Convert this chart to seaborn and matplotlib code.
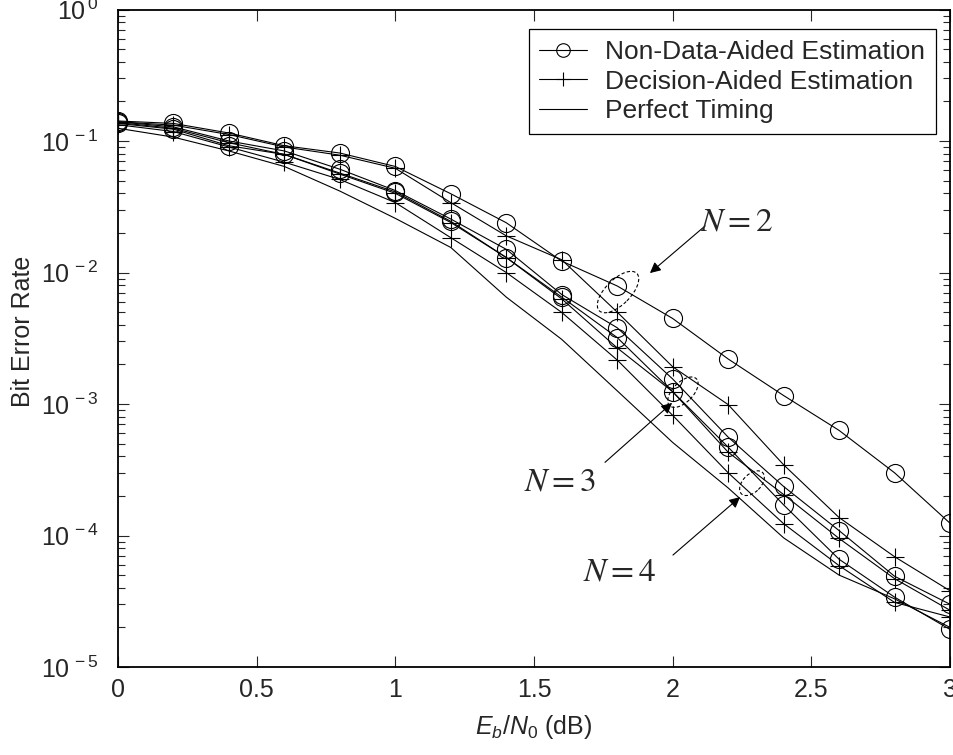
"""
BER vs Eb/N0 for non-data-aided / decision-aided timing estimation
"""

import numpy as np
import pandas as pd
import matplotlib
matplotlib.use('Agg')
import matplotlib.pyplot as plt
import matplotlib.transforms as mtransforms
from matplotlib.patches import Ellipse
import seaborn as sns

# ---- data ----
ebn0 = [0.0, 0.2, 0.4, 0.6, 0.8, 1.0, 1.2, 1.4, 1.6, 1.8, 2.0, 2.2, 2.4, 2.6, 2.8, 3.0]

nda_n2 = [0.142, 0.136, 0.115, 0.092, 0.081, 0.064, 0.0397, 0.0239, 0.0122, 0.0079,
          0.00447, 0.0022, 0.00116, 0.00063, 0.00030, 0.000124]
da_n2 = [0.140, 0.132, 0.112, 0.090, 0.078, 0.062, 0.034, 0.019, 0.0125, 0.0050,
         0.00192, 0.00099, 0.000345, 0.000137, 0.000069, 0.000038]
nda_n3 = [0.140, 0.128, 0.100, 0.084, 0.061, 0.042, 0.0255, 0.015, 0.0068, 0.0038,
          0.00155, 0.00056, 0.000236, 0.000109, 0.000049, 0.000030]
nda_n4 = [0.136, 0.123, 0.092, 0.079, 0.057, 0.041, 0.0245, 0.013, 0.0065, 0.0032,
          0.00124, 0.00047, 0.000171, 0.000066, 0.000034, 0.0000193]
da_n3 = [0.138, 0.125, 0.097, 0.079, 0.056, 0.040, 0.024, 0.013, 0.0063, 0.00267,
         0.00124, 0.00043, 0.000205, 0.000095, 0.000047, 0.000027]
da_n4 = [0.133, 0.118, 0.090, 0.069, 0.051, 0.034, 0.0184, 0.010, 0.00497, 0.00216,
         0.00082, 0.00030, 0.000123, 0.000059, 0.000031, 0.000024]
perfect = [0.125, 0.107, 0.084, 0.064, 0.0416, 0.0258, 0.0155, 0.0065, 0.0031, 0.00126,
           0.00051, 0.00023, 0.000096, 0.000050, 0.000033, 0.000020]

legend_labels = ['Non-Data-Aided Estimation', 'Decision-Aided Estimation', 'Perfect Timing']
x_ticks = [0, 0.5, 1, 1.5, 2, 2.5, 3]
x_tick_labels = ['0', '0.5', '1', '1.5', '2', '2.5', '3']
y_ticks = [1e-5, 1e-4, 1e-3, 1e-2, 1e-1, 1e0]
y_tick_labels = [r'$10^{\,-5}$', r'$10^{\,-4}$', r'$10^{\,-3}$', r'$10^{\,-2}$',
                 r'$10^{\,-1}$', r'$10^{\,0}$']

# ---- style ----
sns.set_style('ticks')
plt.rcParams['font.family'] = ['Liberation Sans', 'DejaVu Sans']
plt.rcParams['mathtext.fontset'] = 'custom'
plt.rcParams['mathtext.rm'] = 'Liberation Sans'
plt.rcParams['mathtext.it'] = 'Liberation Sans:italic'
plt.rcParams['mathtext.sf'] = 'Liberation Sans'
plt.rcParams['mathtext.bf'] = 'Liberation Sans:bold'


def draw_series(ax, y, kind, label=None):
    kws = dict(color='k', lw=0.8, ax=ax, label=label if label else '_nolegend_')
    if kind == 'nda':
        kws.update(marker='o', markersize=13, markerfacecolor='none',
                   markeredgecolor='k', markeredgewidth=0.8)
    elif kind == 'da':
        kws.update(marker='+', markersize=13, markeredgecolor='k', markeredgewidth=0.8)
    sns.lineplot(x=ebn0, y=y, **kws)


def ellipse(fig, ax, cx, cy, w, h):
    # size in inches, centre in data coords
    trans = fig.dpi_scale_trans + mtransforms.ScaledTranslation(cx, cy, ax.transData)
    e = Ellipse((0, 0), w, h, angle=45, transform=trans, fill=False,
                edgecolor='k', lw=0.8, ls=(0, (3, 2)))
    ax.add_patch(e)


def main():
    fig = plt.figure(figsize=(9.54, 7.55), dpi=100)
    ax = fig.add_axes([118 / 954, 1 - 667 / 755, 832 / 954, 657.5 / 755])

    draw_series(ax, nda_n2, 'nda', legend_labels[0])
    draw_series(ax, da_n2, 'da', legend_labels[1])
    draw_series(ax, perfect, 'plain', legend_labels[2])
    draw_series(ax, nda_n3, 'nda')
    draw_series(ax, nda_n4, 'nda')
    draw_series(ax, da_n3, 'da')
    draw_series(ax, da_n4, 'da')

    ax.set_yscale('log')
    ax.set_xlim(0, 3)
    ax.set_ylim(1e-5, 1)
    ax.set_xticks(x_ticks)
    ax.set_xticklabels(x_tick_labels)
    ax.set_yticks(y_ticks)
    ax.set_yticklabels(y_tick_labels)

    ax.tick_params(which='both', direction='in', top=True, right=True, labelsize=18)
    ax.tick_params(which='major', length=8, width=0.8)
    ax.tick_params(which='minor', length=5, width=0.8)
    ax.tick_params(axis='y', pad=14)
    ax.tick_params(axis='x', pad=8)
    for s in ax.spines.values():
        s.set_linewidth(1.3)
        s.set_color('k')

    ax.set_xlabel(r'$E_b/N_0$ (dB)', fontsize=18)
    ax.set_ylabel('Bit Error Rate', fontsize=18)
    ax.xaxis.set_label_coords(0.5, -0.07)
    ax.yaxis.set_label_coords(-0.1, 0.51)

    leg = ax.legend(loc='upper right', bbox_to_anchor=(0.983, 0.970), borderaxespad=0,
                    fontsize=19, fancybox=False, framealpha=1, edgecolor='k',
                    handlelength=1.8, handletextpad=0.7, labelspacing=0.22,
                    borderpad=0.4, markerscale=0.75)
    leg.get_frame().set_linewidth(0.9)

    # annotations for the N groups
    ellipse(fig, ax, 1.803, 7.1e-3, 0.53, 0.25)
    ellipse(fig, ax, 2.037, 1.23e-3, 0.38, 0.20)
    ellipse(fig, ax, 2.286, 2.5e-4, 0.30, 0.18)

    arrow = dict(arrowstyle='-|>', color='k', lw=0.8, mutation_scale=16,
                 shrinkA=0, shrinkB=0)
    ax.annotate('', xy=(1.918, 9.9e-3), xytext=(2.117, 0.0226), arrowprops=arrow)
    ax.annotate('', xy=(1.998, 1.02e-3), xytext=(1.756, 3.6e-4), arrowprops=arrow)
    ax.annotate('', xy=(2.243, 1.96e-4), xytext=(2.001, 7.1e-5), arrowprops=arrow)

    for txt, x, y in [(r'$N=2$', 2.232, 0.0242), (r'$N=3$', 1.594, 2.55e-4),
                      (r'$N=4$', 1.807, 5.3e-5)]:
        ax.text(x, y, txt, fontsize=24, ha='center', va='center', math_fontfamily='stix')

    fig.savefig('out.png', dpi=100)
    plt.close(fig)


if __name__ == "__main__":
    main()
